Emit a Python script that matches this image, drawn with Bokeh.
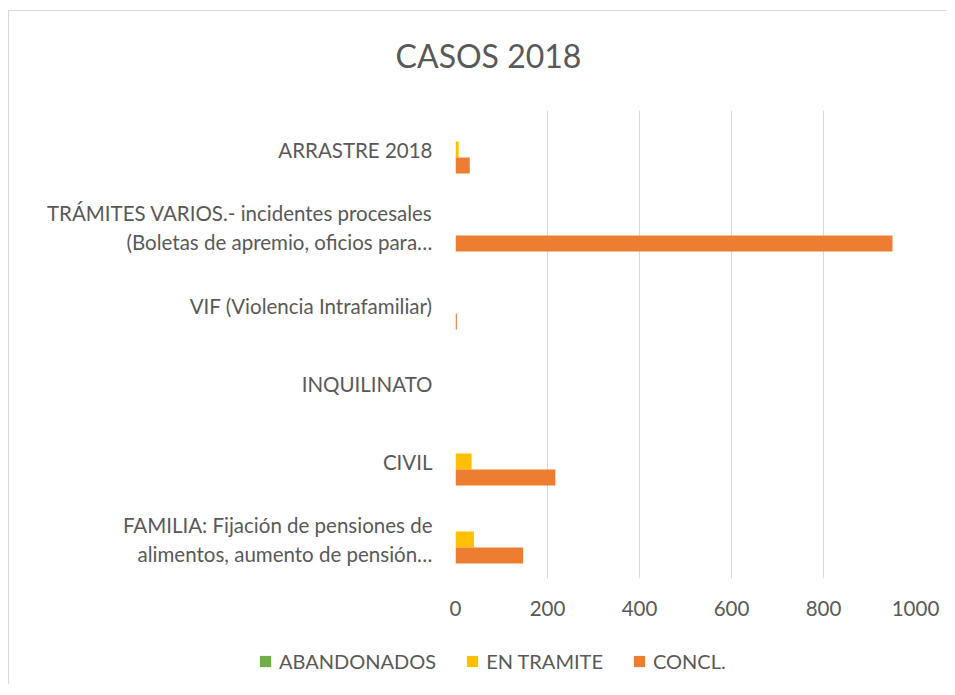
from bokeh.plotting import figure
from bokeh.layouts import column
from bokeh.models import (ColumnDataSource, FactorRange, Range1d, Legend, LegendItem,
                          FixedTicker, Label)
from bokeh.transform import dodge
from bokeh.embed import file_html
from bokeh.resources import INLINE

title_text = "CASOS 2018"
categories = [
    "FAMILIA: Fijación de pensiones de\nalimentos, aumento de pensión…",
    "CIVIL",
    "INQUILINATO",
    "VIF (Violencia Intrafamiliar)",
    "TRÁMITES VARIOS.- incidentes procesales\n(Boletas de apremio, oficios para…",
    "ARRASTRE 2018",
]
abandonados = [0, 0, 0, 0, 0, 0]
en_tramite = [40, 35, 0, 0, 0, 7]
concl = [147, 217, 0, 3, 950, 31]
x_ticks = [0, 200, 400, 600, 800, 1000]
series_names = ["ABANDONADOS", "EN TRAMITE", "CONCL."]
series_fields = ["abandonados", "tramite", "concl"]

GREEN = "#70AD47"
YELLOW = "#FFC000"
ORANGE = "#ED7D31"
COLORS = [GREEN, YELLOW, ORANGE]
TEXT = "#595959"
GRID = "#D9D9D9"
FONT = "Lato"
FS = "20.5px"
W = 938


def bare(fig):
    if "frame_align" in fig.properties():
        fig.frame_align = False
    fig.axis.visible = False
    fig.grid.visible = False
    fig.outline_line_color = None


src = ColumnDataSource(dict(cat=categories, abandonados=abandonados,
                            tramite=en_tramite, concl=concl))

# title strip
tt = figure(width=W, height=98, output_backend="svg", toolbar_location=None,
            x_range=Range1d(0, 1), y_range=Range1d(0, 1),
            min_border=0, min_border_left=0, min_border_right=0,
            min_border_top=0, min_border_bottom=0)
bare(tt)
tt.add_layout(Label(x=479, y=54, x_units="screen", y_units="screen", text=title_text,
                    text_font=FONT, text_font_size="32px", text_color=TEXT,
                    text_align="center", text_baseline="alphabetic"))

# main chart
p = figure(width=W, height=527, output_backend="svg", toolbar_location=None,
           title=None,
           y_range=FactorRange(*categories, range_padding=0),
           x_range=Range1d(0, 1000),
           min_border_left=446, min_border_right=32,
           min_border_top=1, min_border_bottom=58)

bw = 0.205
offsets = [bw, 0, -bw]
for field, col, off in zip(series_fields, COLORS, offsets):
    p.hbar(y=dodge("cat", off, range=p.y_range), right=field, height=bw,
           source=src, fill_color=col, line_color=None)

p.outline_line_color = None
p.ygrid.grid_line_color = None
p.xgrid.grid_line_color = GRID
p.xgrid.grid_line_width = 1
p.xaxis.ticker = FixedTicker(ticks=x_ticks)

for ax in (p.xaxis[0], p.yaxis[0]):
    ax.axis_line_color = None
    ax.major_tick_line_color = None
    ax.minor_tick_line_color = None
    ax.major_tick_out = 0
    ax.minor_tick_out = 0
    ax.major_label_text_font = FONT
    ax.major_label_text_font_size = FS
    ax.major_label_text_color = TEXT

p.yaxis.major_label_standoff = 23
p.yaxis.major_label_text_line_height = 1.17
p.xaxis.major_label_standoff = 22

# legend strip below the chart (same data, renderers hidden, only the legend shows)
lg = figure(width=W, height=48, output_backend="svg", toolbar_location=None,
            y_range=FactorRange(*categories), x_range=Range1d(0, 1000),
            min_border=0, min_border_left=0, min_border_right=0,
            min_border_top=0, min_border_bottom=0)
bare(lg)
items = []
for name, field, col in zip(series_names, series_fields, COLORS):
    r = lg.hbar(y="cat", right=field, height=bw, source=src,
                fill_color=col, line_color=None, visible=False)
    items.append(LegendItem(label=name, renderers=[r]))
legend = Legend(items=items, orientation="horizontal", location=(249, 11),
                glyph_width=14, glyph_height=14, label_standoff=7, spacing=29,
                padding=0, margin=0, border_line_color=None,
                background_fill_alpha=0, inactive_fill_alpha=0,
                label_text_font=FONT, label_text_font_size="20px",
                label_text_color=TEXT)
lg.add_layout(legend)

layout = column(tt, p, lg, spacing=0)
layout.styles = {"border-left": "1px solid #D9D9D9", "border-top": "1px solid #D9D9D9",
                 "margin-top": "10px", "margin-left": "8px"}

open("out.html", "w").write(file_html(layout, INLINE))
